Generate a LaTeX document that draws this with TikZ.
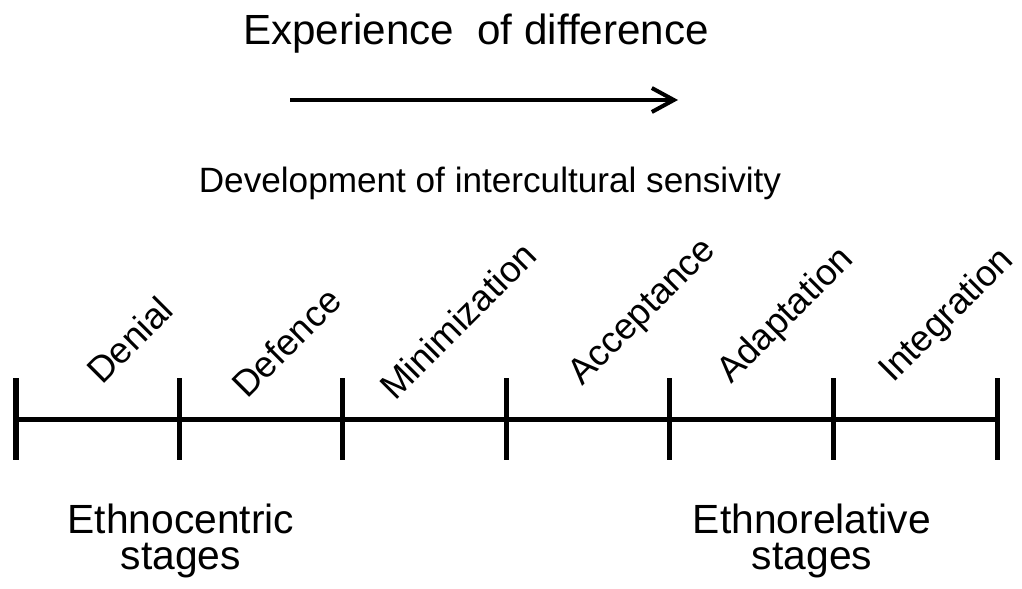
\documentclass[tikz,border=0pt]{standalone}
\usepackage{fontspec}
\setmainfont{Liberation Sans}
\usetikzlibrary{arrows.meta}

\begin{document}
\begin{tikzpicture}[x=0.025cm, y=0.025cm]

  % Styles
  \tikzset{
    heading/.style={font=\fontsize{30}{34}\selectfont, anchor=base, inner sep=0pt},
    subheading/.style={font=\fontsize{25}{30}\selectfont, anchor=base, inner sep=0pt},
    stagelabel/.style={font=\fontsize{26}{30}\selectfont, rotate=45, anchor=base west, inner sep=0pt},
    group/.style={font=\fontsize{29}{25.5}\selectfont, align=center, anchor=north, inner sep=0pt},
    scaleline/.style={line width=0.125cm},
    bigarrow/.style={line width=0.1cm, -{Straight Barb[length=0.55cm, width=0.6cm]}}
  }
  \useasboundingbox (0,0) rectangle (1022,588);

  % Heading with arrow
  \node[heading] (head) at (476,543) {Experience\ \ of difference};
  \coordinate (arrstart) at (290,488);
  \coordinate (arrend) at (678,488);
  \draw[bigarrow] (arrstart) -- (arrend);
  \node[subheading] (sub) at (490,395) {Development of intercultural sensivity};

  % Scale with ticks
  \foreach \i/\x in {0/16,1/179,2/342,3/506,4/669,5/833,6/997} {
    \coordinate (t\i) at (\x,169);
    \coordinate (ttop\i) at (\x,210);
    \coordinate (tbot\i) at (\x,128);
    \draw[scaleline] (ttop\i) -- (tbot\i);
  }
  \draw[scaleline] (t0) -- (t6);

  % Stage names
  \foreach \name/\x/\y in {Denial/102/202, Defence/247/188, Minimization/395/186,
                           Acceptance/582/201, Adaptation/731/203, Integration/893/204}
    \node[stagelabel] (\name) at (\x,\y) {\name};

  % Groups of stages
  \node[group] (ethnocentric) at (181,84) {Ethnocentric\\stages};
  \node[group] (ethnorelative) at (812,84) {Ethnorelative\\stages};

\end{tikzpicture}
\end{document}
